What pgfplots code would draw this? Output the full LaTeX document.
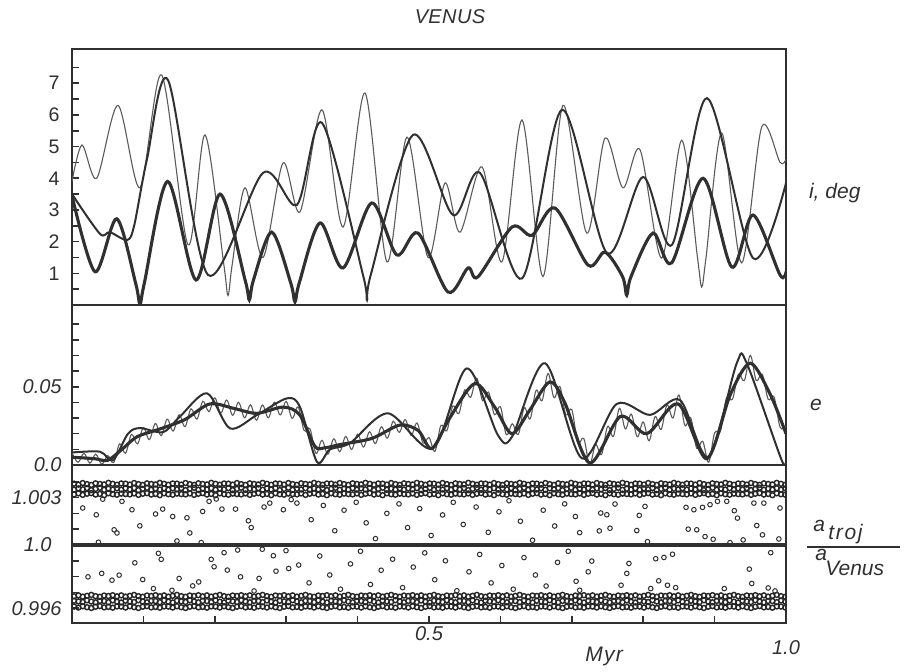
\documentclass[border=0pt]{standalone}
\usepackage{pgfplots}
\pgfplotsset{compat=1.18}
\usepackage{pgfplotstable}
\usepackage{fontspec}
\setmainfont{Liberation Sans}

\definecolor{ink}{HTML}{303030}

% a_troj/a_Venus in the two libration bands, as (ratio - 1) in units of 0.001
\pgfplotstableread{
x u1 u2 u3 l1 l2 l3
0.003 3.88 3.50 3.20 -3.25 -3.53 -3.90
0.009 3.82 3.58 3.26 -3.19 -3.57 -3.96
0.015 3.92 3.52 3.17 -3.27 -3.61 -3.88
0.021 3.85 3.60 3.24 -3.22 -3.50 -3.94
0.027 3.80 3.47 3.28 -3.16 -3.58 -3.99
0.033 3.90 3.55 3.19 -3.24 -3.63 -3.91
0.039 3.86 3.62 3.23 -3.28 -3.54 -3.87
0.045 3.83 3.49 3.15 -3.20 -3.55 -3.95
0.051 3.93 3.56 3.27 -3.23 -3.62 -3.92
0.057 3.87 3.51 3.21 -3.18 -3.51 -3.97
0.063 3.81 3.59 3.18 -3.25 -3.59 -3.89
0.069 3.89 3.50 3.25 -3.19 -3.64 -3.90
0.075 3.88 3.58 3.22 -3.27 -3.53 -3.96
0.081 3.82 3.52 3.20 -3.22 -3.57 -3.88
0.087 3.92 3.60 3.26 -3.16 -3.61 -3.94
0.093 3.85 3.47 3.17 -3.24 -3.50 -3.99
0.099 3.80 3.55 3.24 -3.28 -3.58 -3.91
0.105 3.90 3.62 3.28 -3.20 -3.63 -3.87
0.111 3.86 3.49 3.19 -3.23 -3.54 -3.95
0.117 3.83 3.56 3.23 -3.18 -3.55 -3.92
0.123 3.93 3.51 3.15 -3.25 -3.62 -3.97
0.129 3.87 3.59 3.27 -3.19 -3.51 -3.89
0.135 3.81 3.50 3.21 -3.27 -3.59 -3.90
0.141 3.89 3.58 3.18 -3.22 -3.64 -3.96
0.147 3.88 3.52 3.25 -3.16 -3.53 -3.88
0.153 3.82 3.60 3.22 -3.24 -3.57 -3.94
0.159 3.92 3.47 3.20 -3.28 -3.61 -3.99
0.165 3.85 3.55 3.26 -3.20 -3.50 -3.91
0.171 3.80 3.62 3.17 -3.23 -3.58 -3.87
0.177 3.90 3.49 3.24 -3.18 -3.63 -3.95
0.183 3.86 3.56 3.28 -3.25 -3.54 -3.92
0.189 3.83 3.51 3.19 -3.19 -3.55 -3.97
0.195 3.93 3.59 3.23 -3.27 -3.62 -3.89
0.201 3.87 3.50 3.15 -3.22 -3.51 -3.90
0.207 3.81 3.58 3.27 -3.16 -3.59 -3.96
0.213 3.89 3.52 3.21 -3.24 -3.64 -3.88
0.219 3.88 3.60 3.18 -3.28 -3.53 -3.94
0.225 3.82 3.47 3.25 -3.20 -3.57 -3.99
0.231 3.92 3.55 3.22 -3.23 -3.61 -3.91
0.237 3.85 3.62 3.20 -3.18 -3.50 -3.87
0.243 3.80 3.49 3.26 -3.25 -3.58 -3.95
0.249 3.90 3.56 3.17 -3.19 -3.63 -3.92
0.255 3.86 3.51 3.24 -3.27 -3.54 -3.97
0.261 3.83 3.59 3.28 -3.22 -3.55 -3.89
0.267 3.93 3.50 3.19 -3.16 -3.62 -3.90
0.273 3.87 3.58 3.23 -3.24 -3.51 -3.96
0.279 3.81 3.52 3.15 -3.28 -3.59 -3.88
0.285 3.89 3.60 3.27 -3.20 -3.64 -3.94
0.291 3.88 3.47 3.21 -3.23 -3.53 -3.99
0.297 3.82 3.55 3.18 -3.18 -3.57 -3.91
0.303 3.92 3.62 3.25 -3.25 -3.61 -3.87
0.309 3.85 3.49 3.22 -3.19 -3.50 -3.95
0.315 3.80 3.56 3.20 -3.27 -3.58 -3.92
0.321 3.90 3.51 3.26 -3.22 -3.63 -3.97
0.327 3.86 3.59 3.17 -3.16 -3.54 -3.89
0.333 3.83 3.50 3.24 -3.24 -3.55 -3.90
0.339 3.93 3.58 3.28 -3.28 -3.62 -3.96
0.345 3.87 3.52 3.19 -3.20 -3.51 -3.88
0.351 3.81 3.60 3.23 -3.23 -3.59 -3.94
0.357 3.89 3.47 3.15 -3.18 -3.64 -3.99
0.363 3.88 3.55 3.27 -3.25 -3.53 -3.91
0.369 3.82 3.62 3.21 -3.19 -3.57 -3.87
0.375 3.92 3.49 3.18 -3.27 -3.61 -3.95
0.381 3.85 3.56 3.25 -3.22 -3.50 -3.92
0.387 3.80 3.51 3.22 -3.16 -3.58 -3.97
0.393 3.90 3.59 3.20 -3.24 -3.63 -3.89
0.399 3.86 3.50 3.26 -3.28 -3.54 -3.90
0.405 3.83 3.58 3.17 -3.20 -3.55 -3.96
0.411 3.93 3.52 3.24 -3.23 -3.62 -3.88
0.417 3.87 3.60 3.28 -3.18 -3.51 -3.94
0.423 3.81 3.47 3.19 -3.25 -3.59 -3.99
0.429 3.89 3.55 3.23 -3.19 -3.64 -3.91
0.435 3.88 3.62 3.15 -3.27 -3.53 -3.87
0.441 3.82 3.49 3.27 -3.22 -3.57 -3.95
0.447 3.92 3.56 3.21 -3.16 -3.61 -3.92
0.453 3.85 3.51 3.18 -3.24 -3.50 -3.97
0.459 3.80 3.59 3.25 -3.28 -3.58 -3.89
0.465 3.90 3.50 3.22 -3.20 -3.63 -3.90
0.471 3.86 3.58 3.20 -3.23 -3.54 -3.96
0.477 3.83 3.52 3.26 -3.18 -3.55 -3.88
0.483 3.93 3.60 3.17 -3.25 -3.62 -3.94
0.489 3.87 3.47 3.24 -3.19 -3.51 -3.99
0.495 3.81 3.55 3.28 -3.27 -3.59 -3.91
0.501 3.89 3.62 3.19 -3.22 -3.64 -3.87
0.507 3.88 3.49 3.23 -3.16 -3.53 -3.95
0.513 3.82 3.56 3.15 -3.24 -3.57 -3.92
0.519 3.92 3.51 3.27 -3.28 -3.61 -3.97
0.525 3.85 3.59 3.21 -3.20 -3.50 -3.89
0.531 3.80 3.50 3.18 -3.23 -3.58 -3.90
0.537 3.90 3.58 3.25 -3.18 -3.63 -3.96
0.543 3.86 3.52 3.22 -3.25 -3.54 -3.88
0.549 3.83 3.60 3.20 -3.19 -3.55 -3.94
0.555 3.93 3.47 3.26 -3.27 -3.62 -3.99
0.561 3.87 3.55 3.17 -3.22 -3.51 -3.91
0.567 3.81 3.62 3.24 -3.16 -3.59 -3.87
0.573 3.89 3.49 3.28 -3.24 -3.64 -3.95
0.579 3.88 3.56 3.19 -3.28 -3.53 -3.92
0.585 3.82 3.51 3.23 -3.20 -3.57 -3.97
0.591 3.92 3.59 3.15 -3.23 -3.61 -3.89
0.597 3.85 3.50 3.27 -3.18 -3.50 -3.90
0.603 3.80 3.58 3.21 -3.25 -3.58 -3.96
0.609 3.90 3.52 3.18 -3.19 -3.63 -3.88
0.615 3.86 3.60 3.25 -3.27 -3.54 -3.94
0.621 3.83 3.47 3.22 -3.22 -3.55 -3.99
0.627 3.93 3.55 3.20 -3.16 -3.62 -3.91
0.633 3.87 3.62 3.26 -3.24 -3.51 -3.87
0.639 3.81 3.49 3.17 -3.28 -3.59 -3.95
0.645 3.89 3.56 3.24 -3.20 -3.64 -3.92
0.651 3.88 3.51 3.28 -3.23 -3.53 -3.97
0.657 3.82 3.59 3.19 -3.18 -3.57 -3.89
0.663 3.92 3.50 3.23 -3.25 -3.61 -3.90
0.669 3.85 3.58 3.15 -3.19 -3.50 -3.96
0.675 3.80 3.52 3.27 -3.27 -3.58 -3.88
0.681 3.90 3.60 3.21 -3.22 -3.63 -3.94
0.687 3.86 3.47 3.18 -3.16 -3.54 -3.99
0.693 3.83 3.55 3.25 -3.24 -3.55 -3.91
0.699 3.93 3.62 3.22 -3.28 -3.62 -3.87
0.705 3.87 3.49 3.20 -3.20 -3.51 -3.95
0.711 3.81 3.56 3.26 -3.23 -3.59 -3.92
0.717 3.89 3.51 3.17 -3.18 -3.64 -3.97
0.723 3.88 3.59 3.24 -3.25 -3.53 -3.89
0.729 3.82 3.50 3.28 -3.19 -3.57 -3.90
0.735 3.92 3.58 3.19 -3.27 -3.61 -3.96
0.741 3.85 3.52 3.23 -3.22 -3.50 -3.88
0.747 3.80 3.60 3.15 -3.16 -3.58 -3.94
0.753 3.90 3.47 3.27 -3.24 -3.63 -3.99
0.759 3.86 3.55 3.21 -3.28 -3.54 -3.91
0.765 3.83 3.62 3.18 -3.20 -3.55 -3.87
0.771 3.93 3.49 3.25 -3.23 -3.62 -3.95
0.777 3.87 3.56 3.22 -3.18 -3.51 -3.92
0.783 3.81 3.51 3.20 -3.25 -3.59 -3.97
0.789 3.89 3.59 3.26 -3.19 -3.64 -3.89
0.795 3.88 3.50 3.17 -3.27 -3.53 -3.90
0.801 3.82 3.58 3.24 -3.22 -3.57 -3.96
0.807 3.92 3.52 3.28 -3.16 -3.61 -3.88
0.813 3.85 3.60 3.19 -3.24 -3.50 -3.94
0.819 3.80 3.47 3.23 -3.28 -3.58 -3.99
0.825 3.90 3.55 3.15 -3.20 -3.63 -3.91
0.831 3.86 3.62 3.27 -3.23 -3.54 -3.87
0.837 3.83 3.49 3.21 -3.18 -3.55 -3.95
0.843 3.93 3.56 3.18 -3.25 -3.62 -3.92
0.849 3.87 3.51 3.25 -3.19 -3.51 -3.97
0.855 3.81 3.59 3.22 -3.27 -3.59 -3.89
0.861 3.89 3.50 3.20 -3.22 -3.64 -3.90
0.867 3.88 3.58 3.26 -3.16 -3.53 -3.96
0.873 3.82 3.52 3.17 -3.24 -3.57 -3.88
0.879 3.92 3.60 3.24 -3.28 -3.61 -3.94
0.885 3.85 3.47 3.28 -3.20 -3.50 -3.99
0.891 3.80 3.55 3.19 -3.23 -3.58 -3.91
0.897 3.90 3.62 3.23 -3.18 -3.63 -3.87
0.903 3.86 3.49 3.15 -3.25 -3.54 -3.95
0.909 3.83 3.56 3.27 -3.19 -3.55 -3.92
0.915 3.93 3.51 3.21 -3.27 -3.62 -3.97
0.921 3.87 3.59 3.18 -3.22 -3.51 -3.89
0.927 3.81 3.50 3.25 -3.16 -3.59 -3.90
0.933 3.89 3.58 3.22 -3.24 -3.64 -3.96
0.939 3.88 3.52 3.20 -3.28 -3.53 -3.88
0.945 3.82 3.60 3.26 -3.20 -3.57 -3.94
0.951 3.92 3.47 3.17 -3.23 -3.61 -3.99
0.957 3.85 3.55 3.24 -3.18 -3.50 -3.91
0.963 3.80 3.62 3.28 -3.25 -3.58 -3.87
0.969 3.90 3.49 3.19 -3.19 -3.63 -3.95
0.975 3.86 3.56 3.23 -3.27 -3.54 -3.92
0.981 3.83 3.51 3.15 -3.22 -3.55 -3.97
0.987 3.93 3.59 3.27 -3.16 -3.62 -3.89
0.993 3.87 3.50 3.21 -3.24 -3.51 -3.90
0.999 3.81 3.58 3.18 -3.28 -3.59 -3.96
}\bands

\begin{document}
\begin{tikzpicture}
\path[use as bounding box] (0pt,0pt) rectangle (454pt,335.5pt);

\pgfplotsset{
  panel/.style={
    scale only axis, width=357pt, xmin=0, xmax=1, anchor=south west,
    axis line style={ink, line width=0.9pt},
    tick style={ink, line width=0.8pt},
    major tick length=3.4pt, minor tick length=3.4pt,
    tick align=inside, ytick pos=left, xtick pos=bottom,
    scaled y ticks=false,
    yticklabel style={anchor=east, inner sep=0pt, text=ink},
    xticklabel style={anchor=north, inner sep=0pt, text=ink},
  },
  fine/.style={ink!80, line width=0.55pt, smooth, no markers},
  medium/.style={ink, line width=1.0pt, smooth, no markers},
  heavy/.style={ink, line width=1.55pt, smooth, no markers},
}

% ---- inclination ----
\begin{axis}[panel, at={(36pt,183pt)}, height=128pt, ymin=0, ymax=8.08,
  xtick=\empty, ytick={1,2,3,4,5,6,7}, yticklabels={1,2,3,4,5,6,7},
  minor ytick={0.5,1.5,2.5,3.5,4.5,5.5,6.5,7.5},
  yticklabel style={font=\fontsize{9.8}{11}\selectfont, xshift=-6pt}]
\addplot[fine] coordinates {
(0,3.9) (0.014,5.05) (0.0346,4.0) (0.0644,6.3) (0.0952,3.7) (0.1256,7.26)
(0.1625,1.9) (0.1863,5.37) (0.2125,1.3) (0.2185,0.3) (0.2245,1.3) (0.2423,3.7)
(0.2675,1.5) (0.2955,4.48) (0.3193,2.94) (0.3501,6.16) (0.3796,2.46) (0.4104,6.69)
(0.4412,1.36) (0.4692,5.3) (0.4986,1.5) (0.5224,3.85) (0.5434,2.3) (0.5742,4.36)
(0.6022,1.36) (0.6303,5.84) (0.6597,0.9) (0.6877,6.3) (0.7209,2.27) (0.7465,5.27)
(0.7717,3.7) (0.7955,4.9) (0.8259,1.48) (0.8539,5.2) (0.876,1.5) (0.8819,0.57)
(0.888,1.5) (0.9099,5.43) (0.9379,1.33) (0.966,5.62) (0.9916,4.5) (1.0,4.6)};
\addplot[medium] coordinates {
(0,3.5) (0.039,2.25) (0.053,2.3) (0.077,2.05) (0.087,2.5) (0.105,4.6) (0.1345,7.1)
(0.1905,0.95) (0.2675,4.17) (0.315,3.16) (0.3501,5.75) (0.407,1.0) (0.4132,0.16)
(0.419,1.0) (0.4776,5.37) (0.5336,2.84) (0.5714,4.17) (0.6303,0.84) (0.6863,6.16)
(0.7493,1.64) (0.7997,4.04) (0.8403,1.9) (0.8894,6.53) (0.9538,1.48) (1.0,3.85)};
\addplot[heavy] coordinates {
(0,3.45) (0.0322,1.05) (0.0626,2.72) (0.089,0.7) (0.0952,0.03) (0.1014,0.7)
(0.134,3.9) (0.1737,0.79) (0.2073,3.5) (0.2423,0.8) (0.2483,0.16) (0.2543,0.8)
(0.2797,2.3) (0.3063,0.7) (0.3123,0.1) (0.3183,0.7) (0.3473,2.59) (0.3796,1.17)
(0.4197,3.22) (0.4548,1.58) (0.4846,2.27) (0.5266,0.41) (0.5546,1.17) (0.5686,0.89)
(0.6162,2.46) (0.6443,2.2) (0.6765,3.06) (0.7227,1.26) (0.7465,1.67) (0.771,0.9)
(0.7769,0.31) (0.783,0.9) (0.8137,2.27) (0.8399,1.33) (0.8838,4.0) (0.924,1.2)
(0.9538,2.84) (0.9916,0.95) (1.0,1.05)};
\end{axis}

% ---- eccentricity ----
\begin{axis}[panel, at={(36pt,103pt)}, height=80pt, ymin=0, ymax=0.1022,
  xtick=\empty, ytick={0,0.05}, yticklabels={0.0,0.05},
  minor ytick={0.01,0.02,0.03,0.04,0.06,0.07,0.08,0.09},
  yticklabel style={font=\itshape\fontsize{10}{11}\selectfont, xshift=-5pt}]
\addplot[fine, tension=0.6] coordinates {
(0,0.008) (0.0083,0.0017) (0.0167,0.0075) (0.025,0.0012) (0.0333,0.0069) (0.0417,0.0005)
(0.05,0.006) (0.0583,0.0015) (0.0667,0.0135) (0.075,0.0075) (0.0833,0.0195) (0.0917,0.0135)
(0.1,0.0239) (0.1083,0.0162) (0.1167,0.0265) (0.125,0.0188) (0.1333,0.0293) (0.1417,0.0217)
(0.15,0.0321) (0.1583,0.0245) (0.1667,0.0359) (0.175,0.0293) (0.1833,0.0407) (0.1917,0.0341)
(0.2,0.0429) (0.2083,0.0332) (0.2167,0.0415) (0.225,0.0318) (0.2333,0.04) (0.2417,0.0302)
(0.25,0.0384) (0.2583,0.0286) (0.2667,0.0383) (0.275,0.0302) (0.2833,0.0401) (0.2917,0.032)
(0.3,0.0406) (0.3083,0.0298) (0.3167,0.037) (0.325,0.0221) (0.3333,0.0231) (0.3417,0.0074)
(0.35,0.0158) (0.3583,0.0069) (0.3667,0.0167) (0.375,0.0085) (0.3833,0.0182) (0.3917,0.01)
(0.4,0.0197) (0.4083,0.0115) (0.4167,0.0212) (0.425,0.0137) (0.4333,0.0244) (0.4417,0.0172)
(0.45,0.028) (0.4583,0.0208) (0.4667,0.029) (0.475,0.0189) (0.4833,0.0268) (0.4917,0.014)
(0.5,0.0175) (0.5083,0.0088) (0.5167,0.0253) (0.525,0.0219) (0.5333,0.0377) (0.5417,0.0328)
(0.55,0.048) (0.5583,0.0432) (0.5667,0.0555) (0.575,0.0411) (0.5833,0.0466) (0.5917,0.0321)
(0.6,0.0372) (0.6083,0.0193) (0.6167,0.0263) (0.625,0.0195) (0.6333,0.0365) (0.6417,0.0295)
(0.65,0.0477) (0.6583,0.0411) (0.6667,0.0585) (0.675,0.043) (0.6833,0.0501) (0.6917,0.0321)
(0.7,0.0354) (0.7083,0.0142) (0.7167,0.017) (0.725,0.0005) (0.7333,0.013) (0.7417,0.0068)
(0.75,0.0246) (0.7583,0.0184) (0.7667,0.0362) (0.775,0.023) (0.7833,0.0325) (0.7917,0.018)
(0.8,0.0275) (0.8083,0.0155) (0.8167,0.031) (0.825,0.0227) (0.8333,0.0383) (0.8417,0.03)
(0.85,0.0447) (0.8583,0.0254) (0.8667,0.03) (0.875,0.0106) (0.8833,0.0152) (0.8917,0.0018)
(0.9,0.0205) (0.9083,0.0218) (0.9167,0.043) (0.925,0.042) (0.9333,0.058) (0.9417,0.054)
(0.95,0.07) (0.9583,0.054) (0.9667,0.058) (0.975,0.042) (0.9833,0.0435) (0.9917,0.0242)
(1,0.025)};
\addplot[medium] coordinates {
(0,0.008) (0.0392,0.0085) (0.0574,0.003) (0.0784,0.020) (0.0952,0.0236) (0.1275,0.021)
(0.1513,0.031) (0.1891,0.0458) (0.2213,0.0234) (0.2591,0.032) (0.3011,0.0426) (0.3193,0.037)
(0.3431,0.002) (0.3613,0.010) (0.3894,0.014) (0.4426,0.033) (0.5056,0.0107) (0.5528,0.0617)
(0.5966,0.019) (0.6162,0.018) (0.6625,0.065) (0.7139,0.0043) (0.7629,0.039) (0.8095,0.032)
(0.8515,0.0415) (0.8912,0.0053) (0.931,0.065) (0.945,0.065) (0.994,0.003) (1.0,0.004)};
\addplot[heavy] coordinates {
(0,0.005) (0.032,0.004) (0.050,0.003) (0.070,0.010) (0.091,0.018) (0.123,0.023)
(0.158,0.029) (0.193,0.039) (0.228,0.036) (0.259,0.033) (0.296,0.037) (0.319,0.032)
(0.340,0.012) (0.354,0.011) (0.375,0.013) (0.420,0.017) (0.459,0.0255) (0.485,0.022)
(0.504,0.0105) (0.529,0.030) (0.564,0.052) (0.592,0.037) (0.616,0.020) (0.641,0.035)
(0.669,0.053) (0.690,0.040) (0.725,0.0013) (0.768,0.031) (0.805,0.020) (0.849,0.039)
(0.889,0.004) (0.922,0.045) (0.950,0.065) (0.978,0.045) (1.0,0.020)};
\end{axis}

% ---- semi-major axis ratio ----
\begin{axis}[panel, at={(36pt,24pt)}, height=79pt, ymin=-4.94, ymax=5.06,
  ytick={-4,3}, yticklabels={0.996,1.003}, minor ytick={-3,-2,-1,1,2,4},
  extra y ticks={0}, extra y tick labels={1.0},
  extra y tick style={yticklabel style={xshift=-5pt}},
  yticklabel style={font=\itshape\fontsize{10}{11}\selectfont, xshift=-5pt},
  xtick={0.1,0.2,0.3,0.4,0.5,0.6,0.7,0.8,0.9}, xticklabels={,,,,0.5,,,,},
  extra x ticks={1}, extra x tick labels={1.0},
  extra x tick style={xticklabel style={yshift=-7pt}},
  xticklabel style={font=\itshape\fontsize{10}{11}\selectfont, yshift=-1.5pt},
  clip marker paths=true]
\addplot[ink, line width=2pt] coordinates {(0,0) (1,0)};
\pgfplotsset{
  band/.style={only marks, mark=o, mark size=1.25pt, black!85, mark options={line width=0.7pt}},
  dots/.style={only marks, mark=o, mark size=1.15pt, ink, mark options={line width=0.5pt}}}
\addplot[band] table[x=x,y=u1] {\bands};
\addplot[band] table[x=x,y=u2] {\bands};
\addplot[band] table[x=x,y=u3] {\bands};
\addplot[band] table[x=x,y=l1] {\bands};
\addplot[band] table[x=x,y=l2] {\bands};
\addplot[band] table[x=x,y=l3] {\bands};
\addplot[dots] coordinates {
(0.015,2.34) (0.034,1.91) (0.037,0.17) (0.043,2.9) (0.059,0.96) (0.063,0.76) (0.070,2.76)
(0.084,2.23) (0.095,1.21) (0.117,1.96) (0.127,2.27) (0.141,1.8) (0.147,0.25) (0.161,1.72)
(0.165,0.76) (0.181,0.15) (0.183,2.12) (0.192,2.76) (0.202,2.91) (0.210,2.27) (0.229,2.27)
(0.247,1.53) (0.251,1.1) (0.269,2.4) (0.277,2.65) (0.296,2.23) (0.307,2.87) (0.315,2.65)
(0.335,1.6) (0.352,2.5) (0.368,0.9) (0.381,2.2) (0.398,2.7) (0.412,1.4) (0.425,0.4)
(0.441,2.0) (0.458,2.6) (0.470,1.1) (0.487,2.3) (0.503,0.6) (0.519,1.9) (0.534,2.7)
(0.548,1.3) (0.566,2.4) (0.583,0.8) (0.598,2.1) (0.612,2.8) (0.628,1.5) (0.645,0.3)
(0.660,2.2) (0.676,1.2) (0.690,2.6) (0.705,1.8) (0.711,0.78) (0.7385,0.89) (0.7405,2.02)
(0.749,1.91) (0.7535,1.06) (0.7605,2.59) (0.791,0.91) (0.7945,1.87) (0.8025,2.44) (0.806,0.21)
(0.860,2.38) (0.863,1.0) (0.871,2.23) (0.875,0.96) (0.883,2.38) (0.8866,0.53) (0.8936,2.55)
(0.898,0.36) (0.904,2.76) (0.917,2.76) (0.9216,0.15) (0.9276,2.17) (0.932,1.7) (0.940,0.32)
(0.955,2.65) (0.959,1.23) (0.967,0.64) (0.969,2.65) (0.990,0.38) (0.9916,2.34)};
\addplot[dots] coordinates {
(0.0224,-2.02) (0.0416,-1.8) (0.056,-2.23) (0.066,-1.91) (0.088,-1.13) (0.099,-2.19)
(0.114,-2.76) (0.121,-0.53) (0.125,-0.91) (0.140,-2.87) (0.150,-2.12) (0.169,-2.59)
(0.1775,-2.34) (0.195,-0.91) (0.199,-1.38) (0.213,-0.49) (0.2175,-1.59) (0.232,-0.32)
(0.236,-2.02) (0.255,-2.91) (0.262,-2.12) (0.2665,-0.27) (0.282,-0.68) (0.2857,-1.66)
(0.2997,-0.36) (0.3035,-1.49) (0.3175,-1.27) (0.332,-2.4) (0.347,-0.7) (0.361,-1.9)
(0.376,-2.8) (0.390,-1.2) (0.404,-0.4) (0.418,-2.5) (0.433,-1.6) (0.449,-0.9)
(0.463,-2.7) (0.478,-1.4) (0.494,-0.5) (0.508,-2.2) (0.523,-1.0) (0.539,-2.9)
(0.556,-1.7) (0.571,-0.6) (0.587,-2.4) (0.602,-1.3) (0.618,-2.8) (0.633,-0.8)
(0.649,-1.9) (0.664,-2.6) (0.680,-1.1) (0.695,-0.4) (0.706,-2.3) (0.711,-2.87)
(0.723,-1.7) (0.728,-1.02) (0.769,-2.55) (0.777,-1.8) (0.780,-1.17) (0.8105,-2.76)
(0.8175,-0.87) (0.8217,-2.27) (0.829,-0.79) (0.834,-2.55) (0.841,-0.59) (0.8455,-2.7)
(0.9136,-2.76) (0.9486,-1.53) (0.952,-2.44) (0.975,-2.72) (0.9786,-0.49) (0.9846,-2.91)};
\end{axis}

% ---- titles and side labels ----
\node[anchor=base, text=ink, font=\itshape\fontsize{10}{12}\selectfont\addfontfeatures{LetterSpace=2}] at (225pt,323.5pt) {VENUS};
\node[anchor=base west, text=ink, font=\itshape\fontsize{10.5}{12}\selectfont] at (401pt,236.5pt) {i, deg};
\node[anchor=base west, text=ink, font=\itshape\fontsize{10.5}{12}\selectfont] at (401.5pt,130.5pt) {e};
\node[anchor=base west, inner sep=0pt, text=ink, font=\itshape\fontsize{10.5}{12}\selectfont] at (406.5pt,70pt) {a};
\node[anchor=base west, inner sep=0pt, text=ink, font=\itshape\fontsize{10.5}{12}\selectfont\addfontfeatures{LetterSpace=8}] at (414pt,66pt) {troj};
\draw[ink, line width=0.6pt] (403.5pt,62pt) -- (450pt,62pt);
\node[anchor=base west, inner sep=0pt, text=ink, font=\itshape\fontsize{10.5}{12}\selectfont] at (407.5pt,55.5pt) {a};
\node[anchor=base west, inner sep=0pt, text=ink, font=\itshape\fontsize{10.5}{12}\selectfont] at (412.5pt,48pt) {Venus};
\node[anchor=base west, inner sep=0pt, text=ink, font=\itshape\fontsize{10.5}{12}\selectfont\addfontfeatures{LetterSpace=6}] at (292.5pt,5pt) {Myr};
\end{tikzpicture}
\end{document}
